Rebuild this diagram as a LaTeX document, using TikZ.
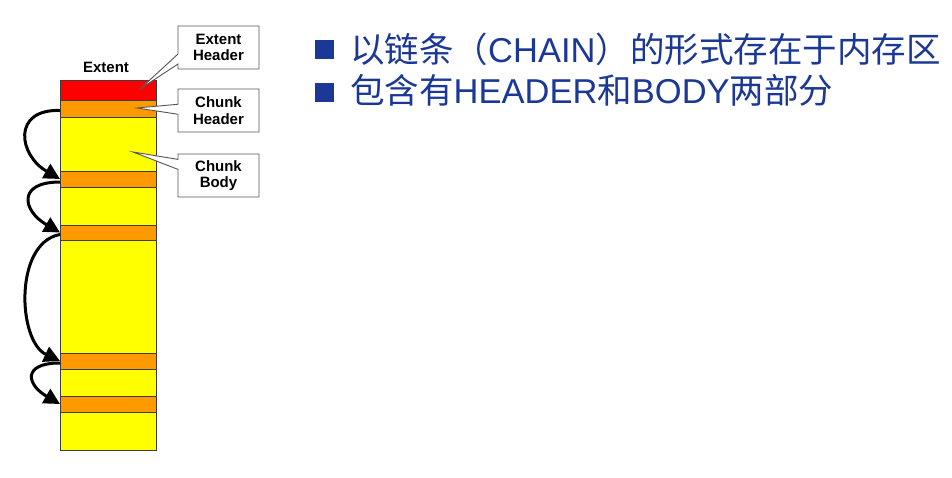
\documentclass[tikz,border=0pt]{standalone}
\usepackage{fontspec}
\setmainfont{Liberation Sans}
\newfontfamily\cjk{Noto Sans CJK SC}
\usetikzlibrary{arrows.meta,shapes.callouts}
\definecolor{bandline}{RGB}{60,60,60}
\definecolor{exred}{RGB}{255,0,0}
\definecolor{chorange}{RGB}{255,153,0}
\definecolor{chyellow}{RGB}{255,255,0}
\definecolor{txtblue}{RGB}{28,56,150}
\definecolor{boxgray}{RGB}{85,85,85}
\tikzset{
  band/.style={draw=bandline, line width=0.9pt, inner sep=0pt, outer sep=0pt,
    minimum width=96pt, anchor=north west},
  callbox/.style={rectangle callout, draw=boxgray, fill=white, line width=0.9pt,
    minimum width=81pt, minimum height=43pt, inner sep=1pt, align=center,
    callout pointer width=10pt,
    font=\bfseries\fontsize{15}{16.5}\selectfont},
  chainarrow/.style={line width=3pt, -{Triangle[length=16pt,width=16pt]}},
  bulletsq/.style={fill=txtblue, minimum width=19pt, minimum height=19pt, inner sep=0pt},
  bullettext/.style={text=txtblue, inner sep=0pt, anchor=base west,
    font=\fontsize{34.5}{40}\selectfont}
}
\begin{document}
\begin{tikzpicture}[x=1pt,y=-1pt]
\useasboundingbox (0,0) rectangle (952,477);
% column
\node[band, fill=exred,    minimum height=20pt]  (eh)  at (60,80)  {};
\node[band, fill=chorange, minimum height=17pt]  (ch1) at (60,100) {};
\node[band, fill=chyellow, minimum height=54pt]  (cb1) at (60,117) {};
\node[band, fill=chorange, minimum height=16pt]  (ch2) at (60,171) {};
\node[band, fill=chyellow, minimum height=38pt]  (cb2) at (60,187) {};
\node[band, fill=chorange, minimum height=15pt]  (ch3) at (60,225) {};
\node[band, fill=chyellow, minimum height=113pt] (cb3) at (60,240) {};
\node[band, fill=chorange, minimum height=16pt]  (ch4) at (60,353) {};
\node[band, fill=chyellow, minimum height=27pt]  (cb4) at (60,369) {};
\node[band, fill=chorange, minimum height=16pt]  (ch5) at (60,396) {};
\node[band, fill=chyellow, minimum height=38pt]  (cb5) at (60,412) {};
\node[font=\bfseries\fontsize{15}{16.5}\selectfont] (extlbl) at (106,67) {Extent};
% callouts
\coordinate (p1) at (140,89);
\coordinate (p2) at (137,108);
\coordinate (p3) at (133,152);
\node[callbox, callout absolute pointer={(p1)}] (ehbox) at (218.5,47.5) {Extent\\Header};
\node[callbox, callout absolute pointer={(p2)}] (chbox) at (218.5,110.5) {Chunk\\Header};
\node[callbox, callout absolute pointer={(p3)}] (cbbox) at (218.5,175.5) {Chunk\\Body};
% chain arrows
\draw[chainarrow] ([yshift=-2pt]ch1.west) to[out=178,in=150,looseness=1.8] (ch2.west);
\draw[chainarrow] ([yshift=-3pt]ch2.west) to[out=180,in=150,looseness=2.2] (ch3.west);
\draw[chainarrow] ([yshift=-2pt]ch3.west) to[out=190,in=155,looseness=0.95] (ch4.west);
\draw[chainarrow] ([yshift=-2pt]ch4.west) to[out=180,in=150,looseness=2.4] (ch5.west);
% bullet text
\node[bulletsq] (sq1) at (324.5,49.5) {};
\node[bulletsq] (sq2) at (324.5,92.5) {};
\node[bullettext] (t1) at (350,62) {{\cjk 以链条（}CHAIN{\cjk ）的形式存在于内存区}};
\node[bullettext] (t2) at (350,103) {{\cjk 包含有}HEADER{\cjk 和}BODY{\cjk 两部分}};
\end{tikzpicture}
\end{document}
